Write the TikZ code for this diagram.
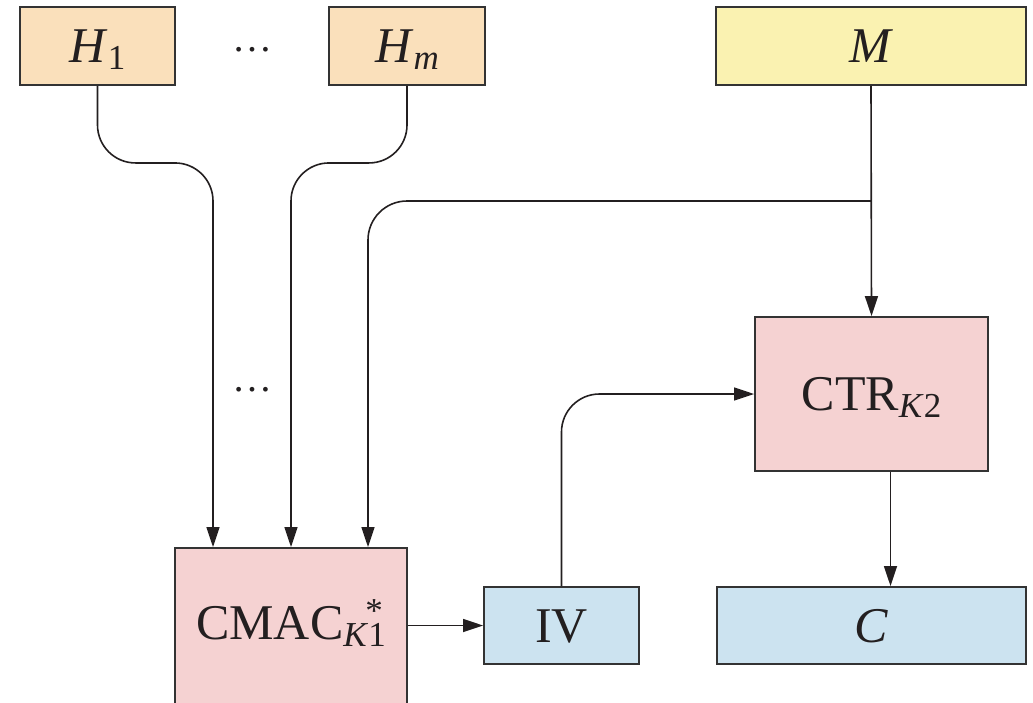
\documentclass[tikz,border=0pt]{standalone}
\usepackage{fontspec}
\setmainfont{Liberation Serif}
\usetikzlibrary{arrows.meta}
\definecolor{hfill}{HTML}{FAE0BB}
\definecolor{mfill}{HTML}{FAF2B1}
\definecolor{pfill}{HTML}{F5D2D2}
\definecolor{bfill}{HTML}{CCE3F0}
\definecolor{lc}{HTML}{231F20}
\definecolor{bc}{HTML}{333333}
\newcommand\sbs[1]{\raisebox{-7pt}{\fontsize{35}{35}\selectfont #1}}
\begin{document}
\begin{tikzpicture}[x=1pt,y=-1pt,
  box/.style={draw=bc, line width=1.9pt, inner sep=0pt, text=lc, font=\fontsize{50}{60}\selectfont, text height=33pt, text depth=0pt},
  conn/.style={draw=lc, line width=1.6pt, -{Triangle[length=20pt,width=13pt]}},
  dots/.style={inner sep=0pt, anchor=base, text=lc, font=\fontsize{40}{40}\selectfont}]
\useasboundingbox (0,0) rectangle (1033,702);
\node[box, fill=hfill, minimum width=155pt, minimum height=78pt] (h1) at (97.5,46) {\textit{H}\sbs{1}};
\node[box, fill=hfill, minimum width=156pt, minimum height=78pt] (hm) at (407,46) {\textit{H}\sbs{\textit{m}}};
\node[box, fill=mfill, minimum width=310pt, minimum height=78pt] (m) at (871,46) {\textit{M}};
\node[box, fill=pfill, minimum width=233pt, minimum height=154pt] (ctr) at (871.5,394) {CTR\sbs{\textit{K}2}};
\node[box, fill=pfill, minimum width=232pt, minimum height=160pt, text depth=11pt] (cmac) at (291,628) {CMAC\sbs{\textit{K}1}\llap{\raisebox{17pt}{\fontsize{35}{35}\selectfont *}\kern3pt}};
\node[box, fill=bfill, minimum width=155pt, minimum height=77pt] (iv) at (561.5,625.5) {IV};
\node[box, fill=bfill, minimum width=309pt, minimum height=77pt] (c) at (871.5,625.5) {\textit{C}};
\node[dots] (d1) at (252,51) {…};
\node[dots] (d2) at (252,391) {…};
\coordinate (br) at (m.south |- 0,201);
\draw[conn, rounded corners=38pt] (h1.south) -- ++(0,77) -| ([xshift=-78pt]cmac.north);
\draw[conn, rounded corners=38pt] (hm.south) -- ++(0,77) -| (cmac.north);
\draw[conn, rounded corners=39pt] (br) -| ([xshift=77pt]cmac.north);
\draw[conn] (m.south) -- (ctr.north);
\draw[conn, rounded corners=38pt] (iv.north) |- (ctr.west);
\draw[conn] (cmac.east |- iv.west) -- (iv.west);
\draw[conn] ([xshift=19pt]ctr.south) -- ([xshift=19pt]c.north);
\end{tikzpicture}
\end{document}
